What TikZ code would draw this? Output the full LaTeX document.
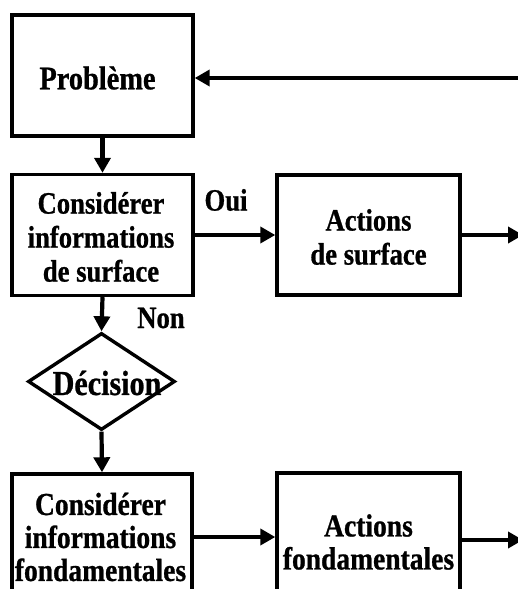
\documentclass[tikz,border=0pt]{standalone}
\usepackage{fontspec}
\setmainfont{Liberation Serif}[FakeStretch=0.86,BoldFeatures={FakeBold=0.8}]
\usetikzlibrary{arrows.meta,shapes.geometric}
\tikzset{
  box/.style={draw, line width=3.4pt, inner sep=0pt},
  txt/.style={font=\fontsize{31}{34}\selectfont\bfseries, align=center, inner sep=0pt},
  lbl/.style={font=\fontsize{31}{34}\selectfont\bfseries, inner sep=0pt},
  arr/.style={line width=4.2pt, -{Triangle[length=15pt,width=16pt]}},
}
\begin{document}
\begin{tikzpicture}[x=1pt,y=-1pt]
\path[use as bounding box, clip] (0,0) rectangle (518,589);
\fill[white] (0,0) rectangle (518,589);
% boxes
\node[box, minimum width=181pt, minimum height=121pt] (prob) at (102.5,75.5) {};
\node[txt, font=\fontsize{33}{34}\selectfont\bfseries] (probt) at (97.5,78) {Problème};
\node[box, minimum width=181pt, minimum height=121pt] (cs) at (102.5,235) {};
\node[txt] (cst) at (101,237) {Considérer\\informations\\de surface};
\node[box, minimum width=183pt, minimum height=120pt] (as) at (368.5,235) {};
\node[txt] (ast) at (368.5,237) {Actions\\de surface};
\node[draw, diamond, line width=3.4pt, minimum width=147pt, minimum height=97pt, inner sep=0pt] (dec) at (101.5,381.5) {};
\node[lbl, font=\fontsize{35}{34}\selectfont\bfseries] (dect) at (107,383) {Décision};
\node[box, minimum width=180pt, minimum height=160pt] (cf) at (102,554) {};
\node[txt, font=\fontsize{32}{33}\selectfont\bfseries] (cft) at (100.5,537) {Considérer\\informations\\fondamentales};
\node[box, minimum width=183pt, minimum height=160pt] (af) at (368.5,553) {};
\node[txt, font=\fontsize{32}{33}\selectfont\bfseries] (aft) at (368.5,542) {Actions\\fondamentales};
% labels
\node[lbl] (oui) at (226,200) {Oui};
\node[lbl] (non) at (161,318) {Non};
% free ends
\coordinate (e1) at (520,78);
\coordinate (e2) at (523,235);
\coordinate (e3) at (523,540);
% connectors
\draw[arr] (e1) -- (e1 -| prob.east);
\draw[arr] (prob.south) -- (cs.north);
\draw[arr] (cs.east) -- (as.west);
\draw[arr] (as.east) -- (e2);
\draw[arr] (cs.south) -- (dec.north);
\draw[arr] (dec.south) -- (cf.north);
\draw[arr] (cf.east |- cft) -- (af.west |- cft);
\draw[arr] (af.east |- e3) -- (e3);
\end{tikzpicture}
\end{document}
